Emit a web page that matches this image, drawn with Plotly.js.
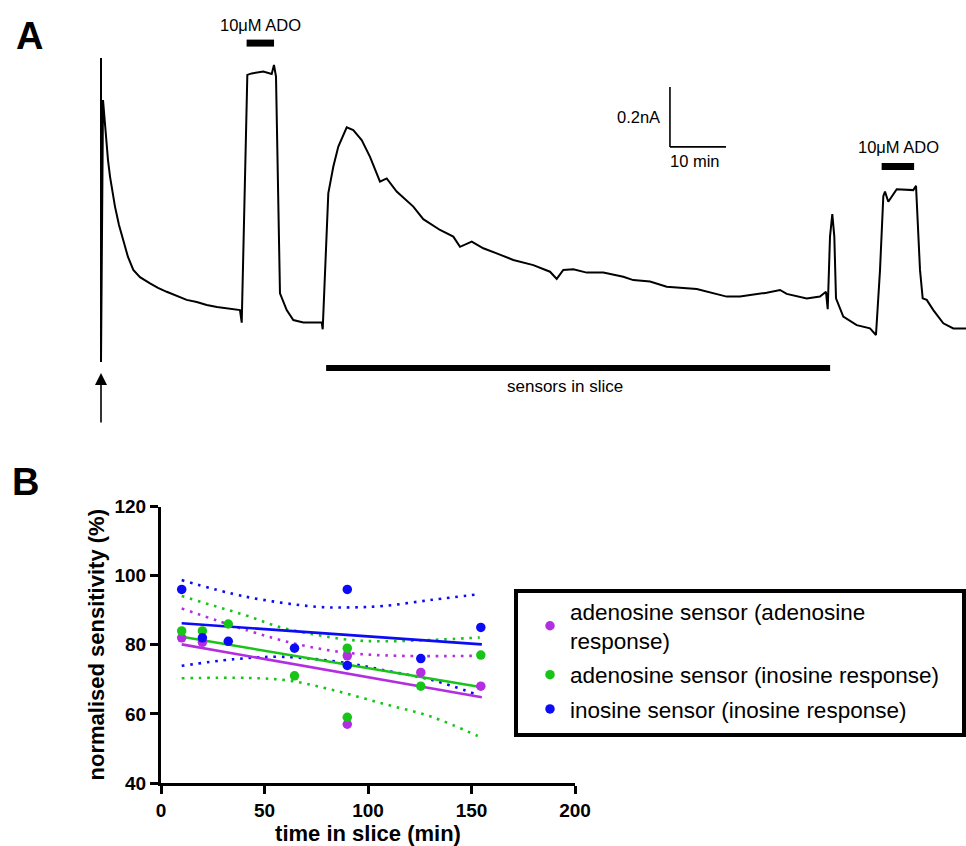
<!DOCTYPE html>
<html><head><meta charset="utf-8">
<script src="https://cdn.plot.ly/plotly-3.0.1.min.js"></script>
<style>html,body{margin:0;padding:0;background:#fff}#chart{width:966px;height:846px}</style>
</head><body><div id="chart"></div><script>
// ---------- Panel A: amperometric trace (time in min, current in nA, arbitrary baseline) ----------
const traceTime = [0, 0, 0.36, 0.63, 1.02, 1.25, 1.61, 2.05, 2.50, 3.21, 3.98, 4.82, 5.77, 6.96, 8.75, 10.18, 11.73,
  13.50, 15.30, 17.10, 18.88, 20.70, 22.45, 23.60, 24.82,
  25.13, 26.13, 26.91, 28.98, 30.48, 30.89, 31.25, 31.96, 33.16, 34.34, 36.13, 39.41, 39.59, 39.82,
  40.59, 41.48, 42.38, 43.88, 45.05, 46.55, 48.04, 49.82, 51.02, 52.80, 55.77, 57.55, 60.54, 62.91,
  64.11, 66.20, 68.27, 70.66, 73.63, 77.20, 80.18, 81.38, 82.55, 84.34, 86.73, 89.70, 93.27, 95.05,
  98.04, 101.02, 106.38, 111.73, 114.11, 118.88, 121.25, 122.45, 126.02, 128.39, 129.46, 129.77,
  130.18, 130.59, 130.95, 131.25, 132.55, 134.95, 137.32, 138.39, 139.11, 139.70, 140.00, 140.59,
  141.48, 142.09, 145.05, 145.54, 146.25, 146.73, 147.45, 148.63, 150.41, 152.20, 154.46];
const traceCurrent = [0.973, -0.040, 0.833, 0.767, 0.700, 0.633, 0.578, 0.523, 0.478, 0.417, 0.367, 0.310, 0.267, 0.243, 0.222, 0.207, 0.194,
  0.180, 0.167, 0.160, 0.150, 0.143, 0.139, 0.135, 0.133,
  0.091, 0.917, 0.922, 0.928, 0.920, 0.950, 0.911, 0.189, 0.133, 0.100, 0.092, 0.092, 0.069, 0.167,
  0.522, 0.611, 0.678, 0.742, 0.733, 0.700, 0.644, 0.561, 0.572, 0.528, 0.478, 0.436, 0.400, 0.378,
  0.344, 0.361, 0.339, 0.322, 0.300, 0.283, 0.261, 0.237, 0.267, 0.269, 0.258, 0.258, 0.244, 0.233,
  0.228, 0.211, 0.203, 0.178, 0.178, 0.191, 0.200, 0.187, 0.172, 0.178, 0.194, 0.136,
  0.378, 0.453, 0.378, 0.172, 0.111, 0.083, 0.072, 0.050, 0.267, 0.513, 0.528, 0.494,
  0.517, 0.536, 0.533, 0.547, 0.267, 0.172, 0.167, 0.133, 0.089, 0.072, 0.072];

// ---------- Panel B: normalised sensitivity (%) vs time in slice (min) ----------
const seriesNames = ['adenosine sensor (adenosine<br>response)', 'adenosine sensor (inosine response)', 'inosine sensor (inosine response)'];
const seriesColors = ['#b32ee0', '#19c419', '#0b0bf5'];
const adoAdoX = [10, 20, 90, 90, 125.5, 154.5];
const adoAdoY = [82, 80.7, 76.8, 57, 72, 68];
const adoInoX = [10, 20, 32.5, 64.5, 90, 90, 125.5, 154.5];
const adoInoY = [84, 84, 86, 71, 79, 59, 68, 77];
const inoInoX = [10, 20, 32.5, 64.5, 90, 90, 125.5, 154.5];
const inoInoY = [96, 82, 81, 79, 96, 74, 76, 85];

const fitX = [10, 155];
const fitAdoAdo = [80.1, 64.8];
const fitAdoIno = [82.3, 67.7];
const fitInoIno = [86.2, 80.1];

const bandAdoAdoUpX = [10, 42, 67, 91, 115, 154];
const bandAdoAdoUpY = [90.5, 84.1, 80.0, 77.6, 76.8, 76.8];
const bandAdoInoUpX = [10, 27, 42, 58, 75, 91, 107, 131, 154];
const bandAdoInoUpY = [94.1, 91.0, 88.3, 85.0, 82.9, 81.4, 81.0, 81.4, 82.1];
const bandAdoInoLoX = [10, 42, 62, 83, 107, 131, 153];
const bandAdoInoLoY = [70.3, 70.4, 69.6, 66.9, 63.0, 59.1, 53.6];
const bandInoInoUpX = [10, 41, 75, 91, 107, 131, 153];
const bandInoInoUpY = [98.7, 93.9, 91.0, 90.8, 91.2, 93.0, 94.6];
const bandInoInoLoX = [10, 35, 59, 91, 107, 131, 152];
const bandInoInoLoY = [73.9, 75.8, 76.5, 74.6, 72.7, 69.8, 65.7];

const xTicks = [0, 50, 100, 150, 200];
const yTicks = [40, 60, 80, 100, 120];

// ---------- helpers for page-pixel placement ----------
const W = 966, H = 846;
const px = v => v / W;
const py = v => 1 - v / H;
const FONT = 'Liberation Sans, Arial, sans-serif';
const DOT = '2.6px,5.8px';

const traces = [];
traces.push({x: traceTime, y: traceCurrent, xaxis: 'x2', yaxis: 'y2', mode: 'lines',
  line: {color: '#000', width: 2}, showlegend: false, hoverinfo: 'skip'});

const bands = [
  [bandAdoAdoUpX, bandAdoAdoUpY, 0],
  [bandAdoInoUpX, bandAdoInoUpY, 1], [bandAdoInoLoX, bandAdoInoLoY, 1],
  [bandInoInoUpX, bandInoInoUpY, 2], [bandInoInoLoX, bandInoInoLoY, 2]
];
bands.forEach(b => traces.push({x: b[0], y: b[1], mode: 'lines', showlegend: false, hoverinfo: 'skip',
  line: {color: seriesColors[b[2]], width: 2.6, dash: DOT, shape: 'spline'}}));
[fitAdoAdo, fitAdoIno, fitInoIno].forEach((f, i) => traces.push({x: fitX, y: f, mode: 'lines',
  showlegend: false, hoverinfo: 'skip', line: {color: seriesColors[i], width: 2.6}}));
[[adoAdoX, adoAdoY], [adoInoX, adoInoY], [inoInoX, inoInoY]].forEach((s, i) => traces.push({
  x: s[0], y: s[1], mode: 'markers', name: seriesNames[i], legendgroup: 'g' + i,
  marker: {color: seriesColors[i], size: 9.5}}));

const shapes = [
  {type: 'line', xref: 'x2', yref: 'y2', x0: 26.0, x1: 30.9, y0: 1.023, y1: 1.023, line: {color: '#000', width: 7}},
  {type: 'line', xref: 'x2', yref: 'y2', x0: 139.4, x1: 145.2, y0: 0.612, y1: 0.612, line: {color: '#000', width: 7}},
  {type: 'line', xref: 'x2', yref: 'y2', x0: 40.2, x1: 130.2, y0: -0.06, y1: -0.06, line: {color: '#000', width: 6}},
  {type: 'line', xref: 'x2', yref: 'y2', x0: 101.6, x1: 101.6, y0: 0.877, y1: 0.677, line: {color: '#000', width: 1.6}},
  {type: 'line', xref: 'x2', yref: 'y2', x0: 101.6, x1: 111.6, y0: 0.677, y1: 0.677, line: {color: '#000', width: 1.6}},
  {type: 'rect', xref: 'paper', yref: 'paper', x0: px(516), x1: px(964), y0: py(591), y1: py(735),
   line: {color: '#000', width: 4}}
];

const txt = (x, y, text, size, extra) => Object.assign({xref: 'paper', yref: 'paper', x: px(x), y: py(y),
  text: text, showarrow: false, font: {family: FONT, size: size, color: '#000'}, xanchor: 'center', yanchor: 'middle'}, extra || {});

const annotations = [
  txt(29, 36, '<b>A</b>', 38),
  txt(25, 482, '<b>B</b>', 38),
  txt(260, 25, '10μM ADO', 16.5),
  txt(898, 147, '10μM ADO', 16.5),
  txt(662, 117, '0.2nA', 16.5, {xanchor: 'right'}),
  txt(695, 161, '10 min', 16.5),
  txt(565, 387, 'sensors in slice', 17),
  {xref: 'x2', yref: 'y2', x: 0, y: -0.077, ax: 0, ay: 51, text: '', showarrow: true,
   arrowhead: 2, arrowsize: 1.5, arrowwidth: 1.6, arrowcolor: '#000'}
];

const tickFont = {family: FONT, size: 19, color: '#000', weight: 'bold'};
const titleFont = {family: FONT, size: 22, color: '#000', weight: 'bold'};
const layout = {
  width: W, height: H, margin: {l: 0, r: 0, t: 0, b: 0},
  paper_bgcolor: '#fff', plot_bgcolor: 'rgba(0,0,0,0)',
  font: {family: FONT, color: '#000'},
  xaxis: {domain: [px(161), px(575)], range: [0, 200], anchor: 'y', tickvals: xTicks, ticktext: xTicks.map(String),
    showline: true, linewidth: 3, linecolor: '#000', ticks: 'outside', ticklen: 8, tickwidth: 3, tickcolor: '#000',
    showgrid: false, zeroline: false, tickfont: tickFont,
    title: {text: 'time in slice (min)', font: titleFont, standoff: 4}},
  yaxis: {domain: [py(783), py(506.5)], range: [40, 120], anchor: 'x', tickvals: yTicks, ticktext: yTicks.map(String),
    showline: true, linewidth: 3, linecolor: '#000', ticks: 'outside', ticklen: 8, tickwidth: 3, tickcolor: '#000',
    showgrid: false, zeroline: false, tickfont: tickFont,
    title: {text: 'normalised sensitivity (%)', font: titleFont, standoff: 4}},
  xaxis2: {domain: [0, 1], range: [-101 / 5.6, 865 / 5.6], anchor: 'y2', visible: false, fixedrange: true},
  yaxis2: {domain: [py(430), 1], range: [(350 - 430) / 300, 350 / 300], anchor: 'x2', visible: false, fixedrange: true},
  showlegend: true,
  legend: {x: px(530), y: py(590), xanchor: 'left', yanchor: 'top', bgcolor: 'rgba(0,0,0,0)', borderwidth: 0,
    font: {family: FONT, size: 22.5, color: '#000'}, traceorder: 'grouped', tracegroupgap: 2, itemsizing: 'trace'},
  shapes: shapes, annotations: annotations
};

Plotly.newPlot('chart', traces, layout, {displayModeBar: false, staticPlot: true});
</script></body></html>
